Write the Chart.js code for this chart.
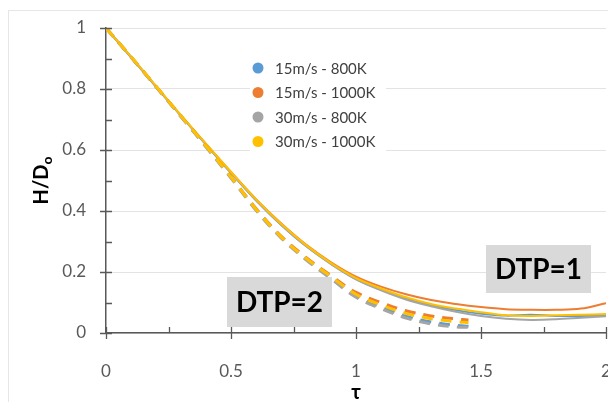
<!DOCTYPE html>
<html>
<head>
<meta charset="utf-8">
<script src="https://cdn.jsdelivr.net/npm/chart.js@4/dist/chart.umd.min.js"></script>
<style>
  html, body { margin: 0; padding: 0; background: #fff; }
  #wrap { position: relative; width: 608px; height: 402px; }
</style>
</head>
<body>
<div id="wrap"><canvas id="chart"></canvas></div>
<script>
// tau samples
const tauSolid  = [0, 0.1, 0.2, 0.3, 0.4, 0.5, 0.6, 0.7, 0.8, 0.9, 1.0, 1.1, 1.2, 1.3, 1.4, 1.5, 1.6, 1.7, 1.8, 1.9, 2.0]
const tauDashed = [0, 0.1, 0.2, 0.3, 0.4, 0.5, 0.6, 0.7, 0.8, 0.9, 1.0, 1.1, 1.2, 1.3, 1.4, 1.45]

const seriesNames = ['15m/s - 800K', '15m/s - 1000K', '30m/s - 800K', '30m/s - 1000K']

// DTP=1 (solid)
const solid15_800  = [1, 0.905, 0.808, 0.712, 0.618, 0.525, 0.435, 0.355, 0.285, 0.227, 0.177, 0.142, 0.113, 0.091, 0.075, 0.063, 0.057, 0.060, 0.056, 0.056, 0.058]
const solid15_1000 = [1, 0.905, 0.808, 0.713, 0.620, 0.528, 0.439, 0.360, 0.290, 0.232, 0.185, 0.152, 0.127, 0.108, 0.095, 0.085, 0.078, 0.076, 0.076, 0.080, 0.098]
const solid30_800  = [1, 0.905, 0.808, 0.712, 0.618, 0.525, 0.435, 0.355, 0.285, 0.226, 0.176, 0.140, 0.110, 0.088, 0.070, 0.056, 0.047, 0.043, 0.045, 0.050, 0.055]
const solid30_1000 = [1, 0.906, 0.810, 0.714, 0.620, 0.528, 0.438, 0.358, 0.288, 0.229, 0.180, 0.146, 0.117, 0.095, 0.080, 0.068, 0.058, 0.056, 0.058, 0.060, 0.062]

// DTP=2 (dashed)
const dash15_800  = [1, 0.905, 0.808, 0.710, 0.612, 0.510, 0.405, 0.315, 0.243, 0.182, 0.122, 0.085, 0.055, 0.036, 0.025, 0.022]
const dash15_1000 = [1, 0.905, 0.808, 0.711, 0.613, 0.512, 0.408, 0.318, 0.248, 0.188, 0.133, 0.100, 0.073, 0.056, 0.046, 0.043]
const dash30_800  = [1, 0.905, 0.807, 0.709, 0.610, 0.508, 0.402, 0.312, 0.240, 0.178, 0.117, 0.080, 0.049, 0.030, 0.020, 0.019]
const dash30_1000 = [1, 0.906, 0.809, 0.711, 0.613, 0.511, 0.406, 0.316, 0.245, 0.185, 0.127, 0.092, 0.064, 0.047, 0.037, 0.034]

const xTicks = [0, 0.5, 1, 1.5, 2]
const yTicks = [0, 0.2, 0.4, 0.6, 0.8, 1]
const xTickLabels = ['0', '0.5', '1', '1.5', '2']
const yTickLabels = ['0', '0.2', '0.4', '0.6', '0.8', '1']

const colors = ['#5B9BD5', '#ED7D31', '#A5A5A5', '#FFC000']
const drawOrder = [3, 2, 1, 0]

function pts(xs, ys){
    return xs.map(function(x, i){ return {x: x, y: ys[i]} })
}

const solidSets = [solid15_800, solid15_1000, solid30_800, solid30_1000]
const dashSets  = [dash15_800, dash15_1000, dash30_800, dash30_1000]

let datasets = []
solidSets.forEach(function(s, i){
    datasets.push({
        label: seriesNames[i],
        data: pts(tauSolid, s),
        borderColor: colors[i],
        borderWidth: 2,
        pointRadius: 0,
        tension: 0.35,
        order: drawOrder[i] + 4
    })
})
dashSets.forEach(function(s, i){
    datasets.push({
        label: seriesNames[i] + ' (DTP=2)',
        data: pts(tauDashed, s),
        borderColor: colors[i],
        borderWidth: 3,
        borderDash: [11, 8],
        pointRadius: 0,
        tension: 0.35,
        order: drawOrder[i]
    })
})

// ticks, titles, legend and DTP labels
const decor = {
    id: 'decor',
    beforeDraw(chart){
        const c = chart.ctx
        c.save()
        c.fillStyle = '#fff'
        c.fillRect(0, 0, chart.width, chart.height)
        c.strokeStyle = '#E6E6E6'
        c.lineWidth = 1
        c.strokeRect(8.5, 10.5, chart.width, chart.height)
        c.restore()
    },
    afterDatasetsDraw(chart){
        const c = chart.ctx
        const xs = chart.scales.x, ys = chart.scales.y
        const x0 = xs.getPixelForValue(0), y0 = ys.getPixelForValue(0)
        c.save()
        c.strokeStyle = '#595959'
        c.lineWidth = 1.3
        c.beginPath()
        for (let v = 0; v <= 1.0001; v += 0.1){
            const py = Math.round(ys.getPixelForValue(v)) + 0.5
            const major = Math.round(v * 10) % 2 === 0
            c.moveTo(major ? x0 - 6 : x0, py)
            c.lineTo(x0 + 6, py)
        }
        for (let v = 0; v <= 2.0001; v += 0.25){
            const px = Math.round(xs.getPixelForValue(v)) + 0.5
            const major = Math.round(v * 4) % 2 === 0
            c.moveTo(px, y0 - 6)
            c.lineTo(px, major ? y0 + 6 : y0)
        }
        c.stroke()

        // legend
        c.fillStyle = '#fff'
        c.fillRect(250, 56, 136, 96)
        c.font = '15px Lato'
        c.textBaseline = 'middle'
        c.textAlign = 'left'
        seriesNames.forEach(function(n, i){
            const cy = 68 + i * 24.5
            c.fillStyle = colors[i]
            c.beginPath()
            c.arc(258, cy, 5.5, 0, Math.PI * 2)
            c.fill()
            c.fillStyle = '#404040'
            c.fillText(n, 275, cy + 1)
        })

        // DTP boxes
        c.fillStyle = '#D9D9D9'
        c.fillRect(227, 277, 105, 50)
        c.fillRect(486, 245, 105, 48)
        c.fillStyle = '#000'
        c.font = 'bold 28px Lato'
        c.textAlign = 'center'
        c.fillText('DTP=2', 279.5, 303)
        c.fillText('DTP=1', 538.5, 270)

        // axis titles
        c.font = 'bold 20px Lato'
        c.fillText('τ', xs.getPixelForValue(1), 393)
        c.textBaseline = 'alphabetic'
        c.translate(48, (ys.top + ys.bottom) / 2)
        c.rotate(-Math.PI / 2)
        c.font = 'bold 20px Lato'
        const mainW = c.measureText('H/D').width
        c.font = 'bold 14px Lato'
        const subW = c.measureText('o').width
        const start = -(mainW + subW) / 2
        c.textAlign = 'left'
        c.font = 'bold 20px Lato'
        c.fillText('H/D', start, 0)
        c.font = 'bold 14px Lato'
        c.fillText('o', start + mainW, 4)
        c.restore()
    }
}

new Chart(document.getElementById('chart'), {
    type: 'line',
    data: { datasets: datasets },
    options: {
        responsive: true,
        maintainAspectRatio: false,
        animation: false,
        layout: { padding: { top: 28, right: 2, left: 0, bottom: 0 } },
        plugins: { legend: { display: false }, tooltip: { enabled: false } },
        scales: {
            x: {
                type: 'linear',
                min: 0,
                max: 2,
                afterBuildTicks: function(s){ s.ticks = xTicks.map(function(v){ return {value: v} }) },
                ticks: {
                    callback: function(v){ return xTickLabels[xTicks.indexOf(v)] },
                    font: { family: 'Lato', size: 17 },
                    color: '#595959',
                    padding: 20,
                    maxRotation: 0,
                    autoSkip: false
                },
                grid: { display: false },
                border: { color: '#595959', width: 1.5 },
                afterFit: function(s){ s.height = 69; s.paddingLeft = 0; s.paddingRight = 0 }
            },
            y: {
                min: 0,
                max: 1,
                afterBuildTicks: function(s){ s.ticks = yTicks.map(function(v){ return {value: v} }) },
                ticks: {
                    callback: function(v){ return yTickLabels[yTicks.indexOf(v)] },
                    font: { family: 'Lato', size: 17 },
                    color: '#595959',
                    padding: 20
                },
                grid: { color: '#E3E3E3', drawTicks: false },
                border: { color: '#595959', width: 1.5 },
                afterFit: function(s){ s.width = 106; s.paddingTop = 0; s.paddingBottom = 0 }
            }
        }
    },
    plugins: [decor]
});
</script>
</body>
</html>
